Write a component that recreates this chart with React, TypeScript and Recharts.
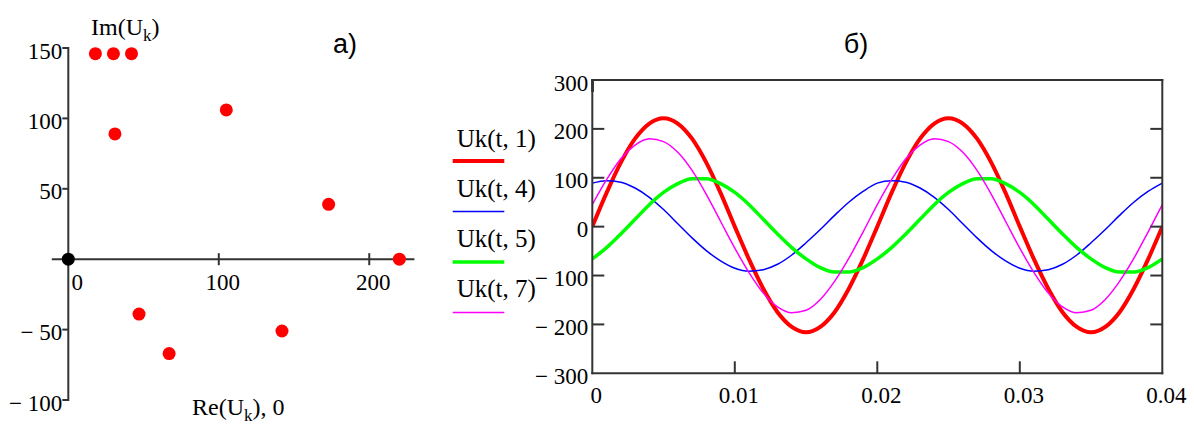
import { ScatterChart, Scatter, LineChart, Line, XAxis, YAxis, ReferenceLine, Legend } from 'recharts';

// --- a) phasor plot: Re(U_k) vs Im(U_k) ---
const RE_UK = [18, 30, 42, 31, 105, 173, 220, 47, 67, 142];
const IM_UK = [146, 146, 146, 89, 106, 39, 0, -39, -67, -51];
const ORIGIN_RE = [0];
const ORIGIN_IM = [0];
const PHASOR_X_TICKS = [0, 100, 200];
const PHASOR_Y_TICKS = [-100, -50, 50, 100, 150];

// --- б) waveforms Uk(t, k) ---
const T = [
  0, 0.001, 0.002, 0.003, 0.004, 0.005, 0.006, 0.007, 0.008, 0.009,
  0.01, 0.011, 0.012, 0.013, 0.014, 0.015, 0.016, 0.017, 0.018, 0.019,
  0.02, 0.021, 0.022, 0.023, 0.024, 0.025, 0.026, 0.027, 0.028, 0.029,
  0.03, 0.031, 0.032, 0.033, 0.034, 0.035, 0.036, 0.037, 0.038, 0.039,
  0.04,
];
const UK1 = [
  0, 69, 131, 180, 211, 222, 211, 180, 131, 69,
  0, -67, -127, -175, -205, -216, -205, -175, -127, -67,
  0, 69, 131, 180, 211, 222, 211, 180, 131, 69,
  0, -67, -127, -175, -205, -216, -205, -175, -127, -67,
  0,
];
const UK4 = [
  89, 94, 91, 79, 60, 35, 6, -23, -49, -70,
  -85, -91, -88, -77, -58, -33, -6, 23, 50, 72,
  89, 94, 91, 79, 60, 35, 6, -23, -49, -70,
  -85, -91, -88, -77, -58, -33, -6, 23, 50, 72,
  89,
];
const UK5 = [
  -66, -43, -15, 15, 45, 70, 88, 98, 98, 88,
  70, 45, 15, -15, -43, -66, -84, -93, -93, -84,
  -66, -43, -15, 15, 45, 70, 88, 98, 98, 88,
  70, 45, 15, -15, -43, -66, -84, -93, -93, -84,
  -66,
];
const UK7 = [
  45, 96, 139, 167, 180, 174, 152, 115, 66, 11,
  -44, -94, -136, -164, -176, -171, -149, -112, -65, -11,
  45, 96, 139, 167, 180, 174, 152, 115, 66, 11,
  -44, -94, -136, -164, -176, -171, -149, -112, -65, -11,
  45,
];
const WAVE_X_TICKS = [0, 0.01, 0.02, 0.03, 0.04];
const WAVE_Y_TICKS = [-300, -200, -100, 0, 100, 200, 300];
const SERIES_KEYS = ['uk1', 'uk4', 'uk5', 'uk7'];
const SERIES_NAMES = ['Uk(t, 1)', 'Uk(t, 4)', 'Uk(t, 5)', 'Uk(t, 7)'];

const SERIES_COLORS = ['#ff0000', '#0000ff', '#00ff00', '#ff00ff'];
const SERIES_WIDTHS = [4, 1.5, 3.5, 1.5];

const phasorData = RE_UK.map((x, i) => ({ x, y: IM_UK[i] }));
const originData = ORIGIN_RE.map((x, i) => ({ x, y: ORIGIN_IM[i] }));
const waveData = T.map((t, i) => ({ t, uk1: UK1[i], uk4: UK4[i], uk5: UK5[i], uk7: UK7[i] }));

const SERIF = '"Liberation Serif", "Times New Roman", serif';
const SANS = '"Liberation Sans", Arial, sans-serif';
const AXIS = '#333';

// left plot box (page px)
const L_TOP = 48;
const L_BOTTOM = 400;
const L_LEFT = 68.3;
const L_RIGHT = 414.4;
const ZERO_Y = L_TOP + (150 / 250) * (L_BOTTOM - L_TOP);

// right plot box (chart px, chart starts at page x 430)
const R_OFFSET = 430;
const R_LEFT = 592.3;
const R_RIGHT = 1162.3;
const R_TOP = 80;
const R_BOTTOM = 373.3;

const fmt = (v: number) => (v < 0 ? `\u2212 ${Math.abs(v)}` : String(v));

const PhasorYTick = ({ x, y, payload }: any) => (
  <g>
    <line x1={x - 6} x2={x} y1={y} y2={y} stroke={AXIS} strokeWidth={2} />
    <text x={x - 6} y={y + 10.5} textAnchor="end" fontFamily={SERIF} fontSize={23} fill="#000">
      {fmt(payload.value)}
    </text>
  </g>
);

const PhasorXTick = ({ x, payload }: any) => (
  <g>
    {payload.value !== 0 && (
      <line x1={x} x2={x} y1={ZERO_Y - 6} y2={ZERO_Y + 6} stroke={AXIS} strokeWidth={2} />
    )}
    <text
      x={x + (payload.value === 0 ? 9 : 4)}
      y={290}
      textAnchor="middle"
      fontFamily={SERIF}
      fontSize={23}
      fill="#000"
    >
      {fmt(payload.value)}
    </text>
  </g>
);

const WaveYTick = ({ x, y, payload }: any) => (
  <g>
    {Math.abs(payload.value) !== 300 && (
      <line x1={x} x2={x + 12} y1={y} y2={y} stroke={AXIS} strokeWidth={2} />
    )}
    <text x={x - 4} y={y + 10.5} textAnchor="end" fontFamily={SERIF} fontSize={23} fill="#000">
      {fmt(payload.value)}
    </text>
  </g>
);

const WaveYRightTick = ({ x, y, payload }: any) =>
  Math.abs(payload.value) !== 300 ? (
    <line x1={x - 12} x2={x} y1={y} y2={y} stroke={AXIS} strokeWidth={2} />
  ) : (
    <g />
  );

const inner = (v: number) => v > 0.001 && v < 0.039;

const WaveXTick = ({ x, y, payload }: any) => (
  <g>
    {inner(payload.value) && <line x1={x} x2={x} y1={y - 12} y2={y} stroke={AXIS} strokeWidth={2} />}
    <text x={x + 4} y={y + 29.7} textAnchor="middle" fontFamily={SERIF} fontSize={23} fill="#000">
      {payload.value}
    </text>
  </g>
);

const WaveXTopTick = ({ x, y, payload }: any) =>
  inner(payload.value) ? (
    <line x1={x} x2={x} y1={y} y2={y + 12} stroke={AXIS} strokeWidth={2} />
  ) : (
    <g />
  );

const WaveLegend = ({ payload }: any) => (
  <svg width={130} height={220} style={{ display: 'block' }}>
    {(payload || []).map((entry: any) => {
      const i = SERIES_KEYS.indexOf(entry.dataKey);
      return (
        <g key={entry.dataKey}>
          <text x={6.7} y={37.3 + 50 * i} fontFamily={SERIF} fontSize={25} fill="#000">
            {entry.value}
          </text>
          <line
            x1={2.7}
            x2={54.3}
            y1={51 + 50.5 * i}
            y2={51 + 50.5 * i}
            stroke={SERIES_COLORS[i]}
            strokeWidth={SERIES_WIDTHS[i]}
          />
        </g>
      );
    })}
  </svg>
);

const frame = { stroke: AXIS, strokeWidth: 2, strokeLinecap: 'square' as const };

export default function App() {
  return (
    <div style={{ position: 'absolute', left: 0, top: 0, width: 1194, height: 424, background: '#fff', overflow: 'hidden' }}>
      <div style={{ position: 'absolute', left: 0, top: 0 }}>
        <ScatterChart
          width={430}
          height={424}
          margin={{ top: L_TOP, left: L_LEFT - 1, right: 430 - L_RIGHT, bottom: 424 - L_BOTTOM - 1 }}
        >
          <XAxis
            type="number"
            dataKey="x"
            domain={[0, 230]}
            ticks={PHASOR_X_TICKS}
            interval={0}
            height={1}
            tickSize={0}
            tickMargin={0}
            axisLine={false}
            tickLine={false}
            tick={<PhasorXTick />}
          />
          <YAxis
            type="number"
            dataKey="y"
            domain={[-100, 150]}
            ticks={PHASOR_Y_TICKS}
            interval={0}
            width={1}
            tickSize={0}
            tickMargin={0}
            axisLine={frame}
            tickLine={false}
            tick={<PhasorYTick />}
          />
          <ReferenceLine
            segment={[{ x: -11, y: 0 }, { x: 230, y: 0 }]}
            ifOverflow="visible"
            stroke={AXIS}
            strokeWidth={2}
          />
          <Scatter
            data={phasorData}
            fill="#ff0000"
            isAnimationActive={false}
            shape={(p: any) => <circle cx={p.cx} cy={p.cy} r={6.5} fill="#ff0000" />}
          />
          <Scatter
            data={originData}
            fill="#000"
            isAnimationActive={false}
            shape={(p: any) => <circle cx={p.cx} cy={p.cy} r={6.5} fill="#000" />}
          />
        </ScatterChart>
      </div>

      <div style={{ position: 'absolute', left: R_OFFSET, top: 0 }}>
        <LineChart
          width={1194 - R_OFFSET}
          height={424}
          data={waveData}
          margin={{
            top: R_TOP - 1,
            left: R_LEFT - R_OFFSET - 1,
            right: 1194 - R_RIGHT - 1,
            bottom: 424 - R_BOTTOM - 1,
          }}
        >
          <XAxis
            type="number"
            dataKey="t"
            domain={[0, 0.04]}
            allowDataOverflow
            ticks={WAVE_X_TICKS}
            interval={0}
            height={1}
            tickSize={0}
            tickMargin={0}
            axisLine={frame}
            tickLine={false}
            tick={<WaveXTick />}
          />
          <XAxis
            xAxisId="top"
            orientation="top"
            type="number"
            domain={[0, 0.04]}
            allowDataOverflow
            ticks={WAVE_X_TICKS}
            interval={0}
            height={1}
            tickSize={0}
            tickMargin={0}
            axisLine={frame}
            tickLine={false}
            tick={<WaveXTopTick />}
          />
          <YAxis
            type="number"
            domain={[-300, 300]}
            allowDataOverflow
            ticks={WAVE_Y_TICKS}
            interval={0}
            width={1}
            tickSize={0}
            tickMargin={0}
            axisLine={frame}
            tickLine={false}
            tick={<WaveYTick />}
          />
          <YAxis
            yAxisId="right"
            orientation="right"
            type="number"
            domain={[-300, 300]}
            allowDataOverflow
            ticks={WAVE_Y_TICKS}
            interval={0}
            width={1}
            tickSize={0}
            tickMargin={0}
            axisLine={frame}
            tickLine={false}
            tick={<WaveYRightTick />}
          />
          {SERIES_KEYS.map((k, i) => (
            <Line
              key={k}
              type="monotone"
              dataKey={k}
              name={SERIES_NAMES[i]}
              stroke={SERIES_COLORS[i]}
              strokeWidth={SERIES_WIDTHS[i]}
              dot={false}
              isAnimationActive={false}
            />
          ))}
          <Legend
            layout="vertical"
            align="center"
            verticalAlign="middle"
            content={<WaveLegend />}
            wrapperStyle={{ left: 20, top: 110, width: 130, height: 220 }}
          />
        </LineChart>
      </div>

      <svg
        width={1194}
        height={424}
        style={{ position: 'absolute', left: 0, top: 0, pointerEvents: 'none' }}
      >
        <text x={91} y={35} fontFamily={SERIF} fontSize={24} fill="#000">
          Im(U<tspan dy={6} fontSize={17}>k</tspan>
          <tspan dy={-6}>)</tspan>
        </text>
        <text x={192} y={415} fontFamily={SERIF} fontSize={24} fill="#000">
          Re(U<tspan dy={6} fontSize={17}>k</tspan>
          <tspan dy={-6}>), 0</tspan>
        </text>
        <text x={345} y={52.5} textAnchor="middle" fontFamily={SANS} fontSize={27} fill="#000">
          а)
        </text>
        <text x={856} y={52.5} textAnchor="middle" fontFamily={SANS} fontSize={27} fill="#000">
          б)
        </text>
      </svg>
    </div>
  );
}
